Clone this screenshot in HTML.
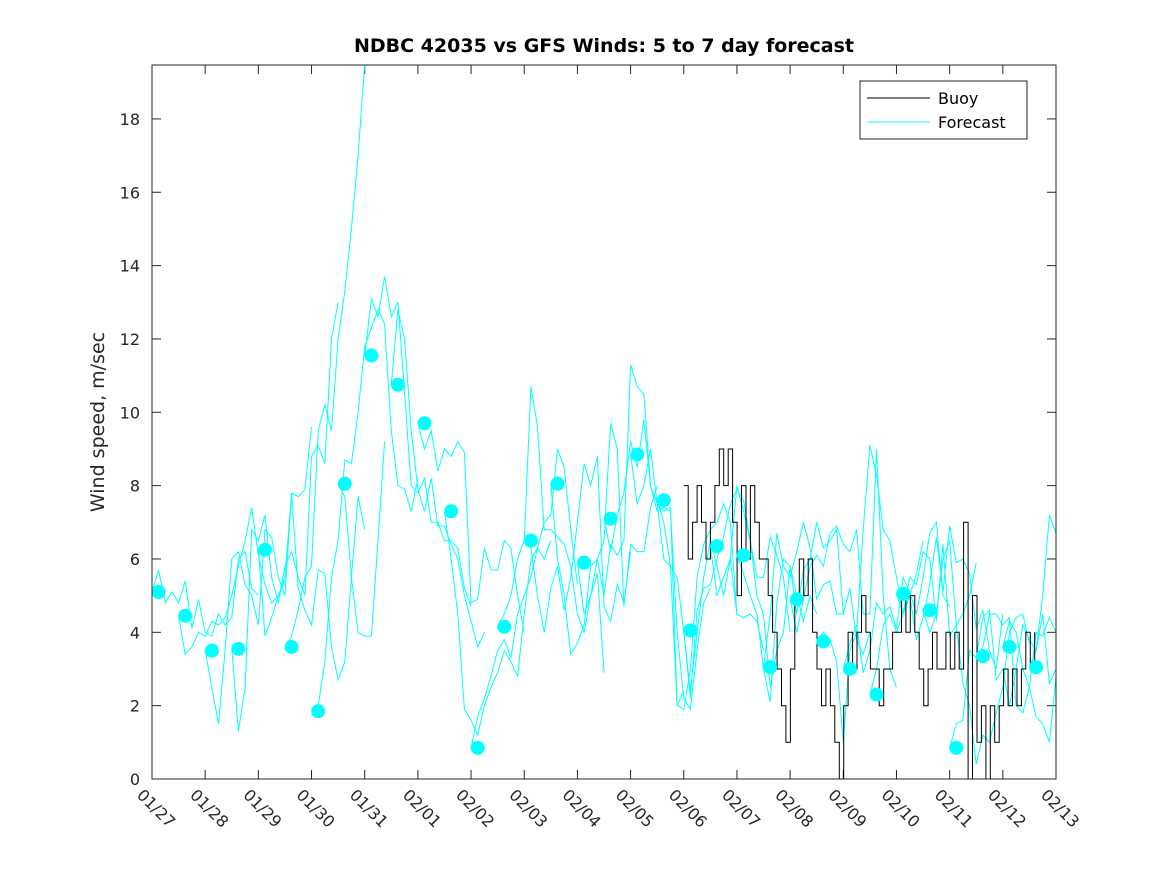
<!DOCTYPE html>
<html><head><meta charset="utf-8"><style>
html,body{margin:0;padding:0;background:#fff}
svg{display:block;font-family:"DejaVu Sans","Liberation Sans",sans-serif}
</style></head><body>
<svg id="chart" width="1167" height="875" viewBox="0 0 1167 875" xmlns="http://www.w3.org/2000/svg">
<defs><clipPath id="pc"><rect x="152" y="65" width="904" height="714"/></clipPath></defs>
<rect x="0" y="0" width="1167" height="875" fill="#fff"/>
<text x="604" y="52" text-anchor="middle" font-size="19" font-weight="bold" fill="#000">NDBC 42035 vs GFS Winds: 5 to 7 day forecast</text>
<text transform="translate(104,422) rotate(-90)" text-anchor="middle" font-size="19" fill="#262626">Wind speed, m/sec</text>
<g id="axes"></g>
<g id="series" clip-path="url(#pc)"></g>
<rect x="152" y="65" width="904" height="714" fill="none" stroke="#262626" stroke-width="1"/>
<g>
<rect x="860" y="81" width="167" height="58" fill="#fff" stroke="#262626" stroke-width="1"/>
<line x1="867" y1="98" x2="930" y2="98" stroke="#000" stroke-width="1"/>
<text x="938" y="104" font-size="16" fill="#000">Buoy</text>
<line x1="867" y1="122" x2="930" y2="122" stroke="#00ffff" stroke-width="1"/>
<text x="938" y="128" font-size="16" fill="#000">Forecast</text>
</g>
</svg>
<script>
const xTickLabels=["01/27","01/28","01/29","01/30","01/31","02/01","02/02","02/03","02/04","02/05","02/06","02/07","02/08","02/09","02/10","02/11","02/12","02/13"];
const yTicks=[0,2,4,6,8,10,12,14,16,18];
const dotStart=0.125, dotStep=0.5;
const dotValues=[5.1,4.45,3.5,3.55,6.25,3.6,1.85,8.05,11.55,10.75,9.7,7.3,0.85,4.15,6.5,8.05,5.9,7.1,8.85,7.6,4.05,6.35,6.1,3.05,4.9,3.75,3.0,2.3,5.05,4.6,0.85,3.35,3.6,3.05];
const buoyStart=10, buoyEnd=16.6;
const buoyValues=[8,6,7,8,7,6, 7,8,9,8,9,7, 5,8,6,8,7,6, 6,5,4,3,2,1, 3,5,6,5,6,4, 3,2,3,2,1,0, 2,4,3,4,5,4, 3,3,2,3,3,4, 4,5,4,5,4,3, 2,3,4,3,3,4, 3,4,3,7,0,5, 1,2,0,2,1,2, 3,2,3,2,3,4,3,4];
const fcStep=0.125;
const fcStarts=[0,0.5,1,1.5,2,2.5,3,3.5,4,4.5,5,5.5,6,6.5,7,7.5,8,8.5,9,9.5,10,10.5,11,11.5,12,12.5,13,13.5,14,14.5,15,15.5,16,16.5];
const fcValues=[
[5.1,5.7,4.8,5.1,4.8,5.4,4.1,4.9,4.0,3.9,4.5,4.2,4.4,6.0,6.2,5.2,5.0],
[4.45,3.4,3.6,4.0,3.9,4.3,4.2,4.4,5.0,5.8,6.5,7.4,6.1,5.3,4.8,5.0,5.4],
[3.5,2.5,1.5,3.5,6.0,6.2,5.3,5.0,4.2,6.8,6.6,5.5,5.0,7.8,7.7,7.9,9.6],
[3.55,1.3,2.5,6.8,6.5,7.2,5.5,4.8,5.8,6.2,5.5,5.0,8.8,9.1,8.6,12.0,13.0],
[6.25,3.9,4.4,5.0,5.5,7.8,5.2,4.6,4.2,5.7,5.6,3.6,2.7,3.2,5.5,7.7,6.8],
[3.6,3.9,4.6,5.5,5.8,9.5,10.2,9.5,12.0,13.3,15.0,17.0,19.5],
[1.85,2.0,3.2,5.5,6.5,8.7,8.6,10.0,11.8,12.3,12.8,12.4,9.5,8.0,7.9,7.3,8.2],
[8.05,7.7,5.5,4.0,3.9,3.9,6.5,9.2],
[11.55,13.1,12.6,13.7,12.6,13.0,10.5,8.0,7.8,8.2,7.0,7.0,6.5,6.5,6.3,5.2,4.7],
[10.75,12.8,12.0,9.5,7.9,7.3,8.2,6.9,6.9,6.4,6.0,5.0,4.3,3.6,4.0],
[9.7,9.0,9.5,8.4,9.0,8.8,9.2,8.9,4.8,4.9,6.3,5.7,5.7,6.5,6.3,5.0,4.0],
[7.3,6.0,4.5,1.9,1.6,1.2,2.0,2.5,2.9,3.5,3.2,2.8,4.5,6.0,6.3,6.0,6.5],
[0.85,1.7,2.2,2.8,3.5,3.8,3.3,4.5,5.0,5.5,6.3,7.0,7.2,9.0,8.5,6.8,5.3],
[4.15,4.5,5.0,6.0,6.5,10.7,9.6,6.8,6.8,6.6,6.4,5.8,4.5,4.0,5.0,5.6,2.9],
[6.5,6.3,5.0,4.0,5.2,5.8,4.6,5.5,7.0,8.6,8.0,8.8,4.7,4.3,5.3,4.8,6.2],
[8.05,6.0,5.0,3.4,3.7,4.2,5.8,6.0,6.5,9.7,9.0,4.7,6.4,6.2,6.2,7.4,8.0],
[5.9,4.5,5.0,6.0,5.0,6.4,6.1,6.5,11.3,10.7,10.5,8.0,7.5,7.3,7.4,2.0,2.4],
[7.1,6.2,7.2,7.8,9.2,8.5,9.8,8.0,7.3,7.4,7.3,4.0,2.2,1.9,3.5,4.8,5.2],
[8.85,7.5,8.0,9.0,7.5,6.0,5.8,5.5,4.0,2.4,4.0,5.5,6.5,5.8,5.0,6.0,4.5],
[7.6,7.0,5.8,2.0,1.9,3.0,5.5,6.4,6.8,7.0,7.5,7.0,4.5,4.4,4.5,4.3,3.5],
[4.05,2.2,4.6,5.2,5.3,6.0,6.6,7.5,7.9,7.6,6.5,5.5,5.5,6.6,6.1,5.5,4.0],
[6.35,5.0,5.5,6.0,8.0,7.3,6.5,5.0,4.5,2.5,3.5,4.0,5.8,5.0,4.3,5.0,4.5],
[6.1,5.6,5.0,4.5,3.0,2.1,4.8,6.0,5.8,4.5,5.7,6.0,7.0,6.3,6.5,6.8,4.5],
[3.05,4.5,6.7,5.8,5.5,6.2,7.0,6.3,4.9,5.3,5.4,4.5,4.5,5.2,3.8,3.4,4.0],
[4.9,4.0,4.9,5.8,6.1,5.8,6.7,6.9,6.4,6.2,6.8,4.5,4.5,9.0,5.0,3.0,2.5],
[3.75,4.0,3.8,3.2,1.0,3.5,4.0,6.8,9.1,8.3,6.8,6.5,5.5,4.5,5.0,5.6,6.5],
[3.0,3.7,4.2,2.9,3.5,4.8,4.5,4.7,4.1,5.5,5.1,4.5,5.5,6.7,7.0,5.0,4.7],
[2.3,3.0,4.2,4.5,4.0,4.5,5.5,5.3,6.2,6.0,4.3,6.4,3.9,4.2,4.5,5.0,5.9],
[5.05,4.5,5.0,3.8,4.4,5.3,6.6,5.1,6.9,5.9,6.0,5.6,4.1,4.6,3.5,3.0,4.5],
[4.6,4.0,4.5,6.0,6.5,4.2,2.6,2.0,0.4,1.2,1.0,1.8,2.5,4.0,4.4,4.5,3.7],
[0.85,1.5,1.6,3.5,3.3,4.4,4.6,2.7,3.0,2.0,3.0,4.2,3.8,3.5,4.5,2.6,3.0],
[3.35,3.6,4.5,4.5,4.2,4.4,2.0,1.8,2.5,4.0,3.9,4.4,4.0,3.7,3.7,3.8],
[3.6,4.3,4.0,3.0,2.5,1.7,1.5,1.0,2.8,3.6,3.8,4.5],
[3.05,3.5,5.0,7.2,6.7,5.1,5.2]
];
const NS="http://www.w3.org/2000/svg";
const X0=152,X1=1056,Y0=779,Y1=65,DMAX=17,VMAX=19.47;
function xs(d){return X0+(X1-X0)*d/DMAX;}
function ys(v){return Y0-(Y0-Y1)*v/VMAX;}
function mk(tag,attrs,parent){const e=document.createElementNS(NS,tag);for(const k in attrs)e.setAttribute(k,attrs[k]);parent.appendChild(e);return e;}
const axes=document.getElementById('axes'), ser=document.getElementById('series');
yTicks.forEach(v=>{
  const y=ys(v);
  const t=mk('line',{x1:X0,y1:y,x2:X0+9,y2:y,stroke:'#262626'},axes);
  
  
  const t2=mk('line',{x1:X1-9,y1:y,x2:X1,y2:y,stroke:'#262626'},axes);
  
  
  const l=mk('text',{x:X0-12,y:y+6,'text-anchor':'end','font-size':16,fill:'#262626'},axes);
  l.textContent=v;
  
  
});
xTickLabels.forEach((s,i)=>{
  const x=xs(i);
  const t=mk('line',{x1:x,y1:Y0,x2:x,y2:Y0-9,stroke:'#262626'},axes);
  
  
  const t2=mk('line',{x1:x,y1:Y1,x2:x,y2:Y1+9,stroke:'#262626'},axes);
  
  
  const l=mk('text',{transform:`translate(${x-16},${Y0+17}) rotate(45)`,'font-size':16,fill:'#262626'},axes);
  l.textContent=s;
  
  
});
fcValues.forEach((arr,si)=>{
  const pts=arr.map((v,i)=>xs(fcStarts[si]+i*fcStep).toFixed(1)+','+ys(v).toFixed(1)).join(' ');
  const p=mk('polyline',{points:pts,fill:'none',stroke:'#00ffff','stroke-width':1},ser);
  
  
});
(function(){
  const n=buoyValues.length, st=(buoyEnd-buoyStart)/(n-1);
  let d='';
  buoyValues.forEach((v,i)=>{
    const x=xs(buoyStart+i*st), y=ys(v);
    if(i===0)d+=`M${x.toFixed(1)},${y.toFixed(1)}`;
    else d+=`H${x.toFixed(1)}V${y.toFixed(1)}`;
  });
  const p=mk('path',{d:d,fill:'none',stroke:'#000','stroke-width':1},ser);
  
  
})();
dotValues.forEach((v,i)=>{
  const c=mk('circle',{cx:xs(dotStart+i*dotStep),cy:ys(v),r:7,fill:'#00ffff'},ser);
  
  
});
</script>
</body></html>
